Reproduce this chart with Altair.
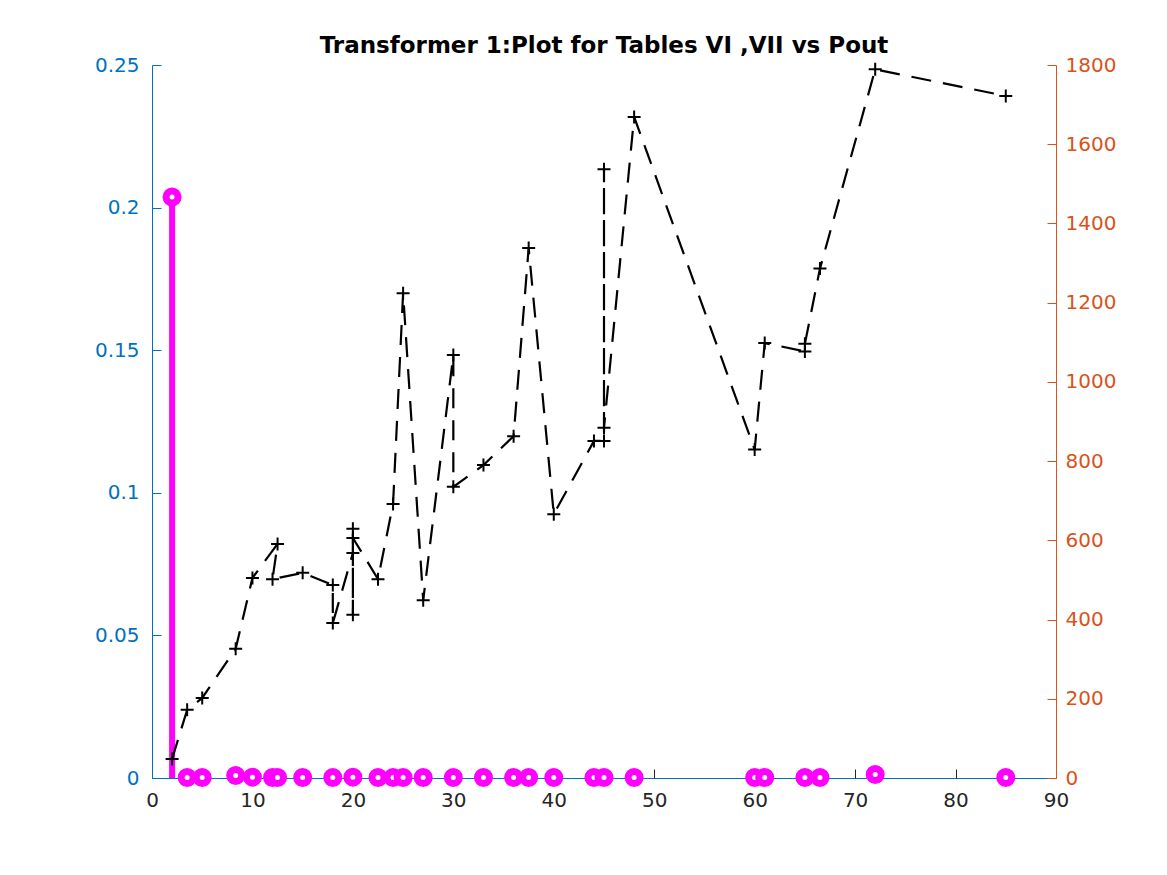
import altair as alt
import pandas as pd

# ---- data ----
pout_line = [2, 3.5, 5, 8.33, 10, 12.5, 12, 15, 18, 18, 20, 20, 20, 20, 22.5, 24, 25, 27,
             30, 30, 33, 36, 37.5, 40, 44, 45, 45, 45, 48, 60, 61, 65, 65, 66.5, 72, 85]
loss_line = [48, 172, 202, 326, 505, 591, 502, 518, 487, 391, 568, 412, 629, 606, 502, 692, 1224, 449,
             1068, 735, 790, 863, 1338, 666, 851, 851, 1537, 884, 1669, 829, 1098, 1077, 1096, 1286, 1789, 1722]

pout_stem = [2, 3.5, 5, 8.33, 10, 12, 12.5, 15, 18, 20, 22.5, 24, 25, 27, 30, 33, 36, 37.5,
             40, 44, 45, 48, 60, 61, 65, 66.5, 72, 85]
ratio_stem = [0.2037, 0.0002, 0.0002, 0.0009, 0.0003, 0.0002, 0.0002, 0.0002, 0.0002, 0.0003, 0.0002,
              0.0002, 0.0002, 0.0002, 0.0002, 0.0002, 0.0002, 0.0002, 0.0002, 0.0002, 0.0002, 0.0002,
              0.0002, 0.0002, 0.0002, 0.0002, 0.0012, 0.0002]

x_ticks = [0, 10, 20, 30, 40, 50, 60, 70, 80, 90]
left_ticks = [0, 0.05, 0.1, 0.15, 0.2, 0.25]
right_ticks = [0, 200, 400, 600, 800, 1000, 1200, 1400, 1600, 1800]

line_df = pd.DataFrame({"Pout": pout_line, "Loss": loss_line, "idx": list(range(len(pout_line)))})
stem_df = pd.DataFrame({"Pout": pout_stem, "Ratio": ratio_stem})

BLUE = "#0072BD"
ORANGE = "#D95319"
DARK = "#262626"
MAGENTA = "#FF00FF"
FONT = "DejaVu Sans"
W, H = 904, 713

xscale = alt.Scale(domain=[0, 90], nice=False, zero=False)
lscale = alt.Scale(domain=[0, 0.25], nice=False)
rscale = alt.Scale(domain=[0, 1800], nice=False)

x_axis_main = alt.Axis(values=x_ticks, orient="bottom", title=None, ticks=False, tickSize=0,
                       labelPadding=12, labelFontSize=20, labelColor=DARK, labelFont=FONT,
                       domainColor=BLUE, domainWidth=1, grid=False, labelFlush=False,
                       labelOverlap=False)
left_axis_main = alt.Axis(values=left_ticks, orient="left", title=None, ticks=False, tickSize=0,
                          labelPadding=13, labelFontSize=20, labelColor=BLUE, labelFont=FONT,
                          domainColor=BLUE, grid=False, format=".2~f", labelOverlap=False,
                          labelFlush=False)
right_axis_main = alt.Axis(values=right_ticks, orient="right", title=None, ticks=False, tickSize=0,
                           labelPadding=9, labelFontSize=20, labelColor=ORANGE, labelFont=FONT,
                           domainColor=ORANGE, grid=False, format="d", labelOverlap=False,
                           labelFlush=False)

# stems (left axis)
stem_rule = alt.Chart(stem_df).mark_rule(color=MAGENTA, strokeWidth=6).encode(
    x=alt.X("Pout:Q", scale=xscale, axis=x_axis_main),
    y=alt.Y("Ratio:Q", scale=lscale, axis=left_axis_main),
    y2=alt.datum(0),
)
stem_pts = alt.Chart(stem_df).mark_point(shape="circle", size=144, strokeWidth=7, color=MAGENTA,
                                         fill="white", filled=False, opacity=1, fillOpacity=1).encode(
    x=alt.X("Pout:Q", scale=xscale, axis=None),
    y=alt.Y("Ratio:Q", scale=lscale, axis=None),
)

# line (right axis)
loss_line_mark = alt.Chart(line_df).mark_line(color="black", strokeWidth=2.2, strokeDash=[20, 12]).encode(
    x=alt.X("Pout:Q", scale=xscale, axis=None),
    y=alt.Y("Loss:Q", scale=rscale, axis=right_axis_main),
    order=alt.Order("idx:Q"),
)
loss_pts = alt.Chart(line_df).mark_point(shape="M-1,0L1,0M0,-1L0,1", size=169, strokeWidth=2,
                                         color="black", filled=False, opacity=1).encode(
    x=alt.X("Pout:Q", scale=xscale, axis=None),
    y=alt.Y("Loss:Q", scale=rscale, axis=None),
)

# inward ticks (MATLAB style)
ticks_left = alt.Chart(stem_df).mark_point(opacity=0).encode(
    x=alt.X("Pout:Q", scale=xscale,
            axis=alt.Axis(values=x_ticks, orient="top", offset=-H, labels=False, domain=False,
                          ticks=True, tickSize=9, tickColor=DARK, title=None, grid=False)),
    y=alt.Y("Ratio:Q", scale=lscale,
            axis=alt.Axis(values=left_ticks, orient="right", offset=-W, labels=False, domain=False,
                          ticks=True, tickSize=9, tickColor=BLUE, title=None, grid=False)),
)
ticks_right = alt.Chart(line_df).mark_point(opacity=0).encode(
    x=alt.X("Pout:Q", scale=xscale, axis=None),
    y=alt.Y("Loss:Q", scale=rscale,
            axis=alt.Axis(values=right_ticks, orient="left", offset=-W, labels=False, domain=False,
                          ticks=True, tickSize=9, tickColor=ORANGE, title=None, grid=False)),
)

chart = alt.layer(stem_rule, stem_pts, loss_line_mark, loss_pts, ticks_left, ticks_right).resolve_scale(
    y="independent"
).resolve_axis(
    x="independent", y="independent"
).properties(
    width=W, height=H,
    padding={"left": 144, "top": 57, "right": 103, "bottom": 82},
    autosize=alt.AutoSizeParams(type="none"),
    title=alt.TitleParams(text="Transformer 1:Plot for Tables VI ,VII vs Pout", font=FONT, fontSize=23,
                          fontWeight="bold", color="black", anchor="middle", offset=-3),
).configure(background="white").configure_view(strokeWidth=0, stroke="transparent")

chart.save("out.html", embed_options={"renderer": "svg", "actions": False})
